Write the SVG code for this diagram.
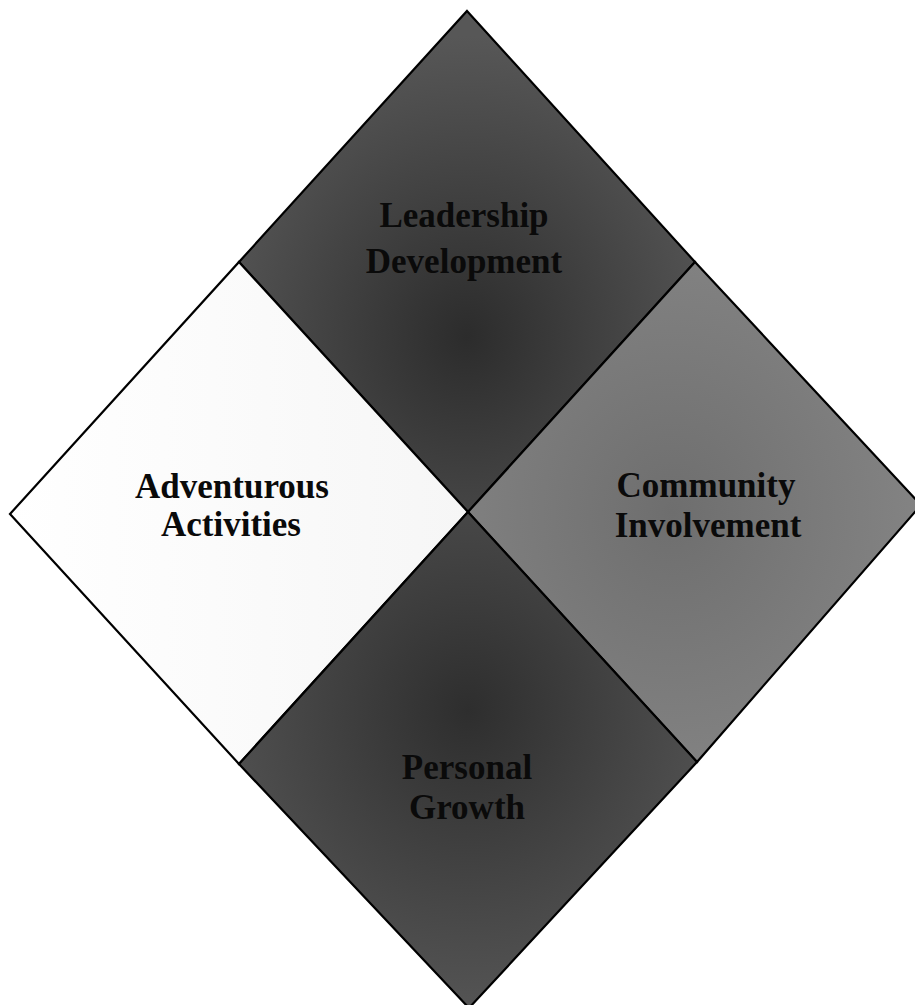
<svg xmlns="http://www.w3.org/2000/svg" width="915" height="1005" viewBox="0 0 915 1005">
<defs>
<radialGradient id="gLead" cx="0.5" cy="0.65" r="0.6">
<stop offset="0" stop-color="#2c2c2c"/>
<stop offset="1" stop-color="#575757"/>
</radialGradient>
<radialGradient id="gComm" cx="0.45" cy="0.5" r="0.6">
<stop offset="0" stop-color="#6e6e6e"/>
<stop offset="1" stop-color="#858585"/>
</radialGradient>
<radialGradient id="gPers" cx="0.5" cy="0.4" r="0.6">
<stop offset="0" stop-color="#2e2e2e"/>
<stop offset="1" stop-color="#545454"/>
</radialGradient>
<linearGradient id="gAdv" x1="0" y1="0" x2="1" y2="0">
<stop offset="0" stop-color="#ffffff"/>
<stop offset="1" stop-color="#f6f6f6"/>
</linearGradient>
</defs>
<style>
.d{stroke:#000;stroke-width:2.2;stroke-linejoin:miter}
.t{font-family:"Liberation Serif","Times New Roman",serif;font-weight:bold;font-size:35px;text-anchor:middle;fill:#0a0a0a}
</style>
<rect width="915" height="1005" fill="#ffffff"/>
<g id="leadership">
<polygon class="d" fill="url(#gLead)" points="467,11 695,262 468,512 239,262"/>
<text class="t" x="464" y="227">Leadership</text>
<text class="t" x="464" y="273">Development</text>
</g>
<g id="adventurous">
<polygon class="d" fill="url(#gAdv)" points="239,262 468,512 239,764 10,514"/>
<text class="t" x="232" y="498">Adventurous</text>
<text class="t" x="231" y="536">Activities</text>
</g>
<g id="community">
<polygon class="d" fill="url(#gComm)" points="695,262 921,505 697,762 468,512"/>
<text class="t" x="706" y="497">Community</text>
<text class="t" x="708" y="537">Involvement</text>
</g>
<g id="personal">
<polygon class="d" fill="url(#gPers)" points="468,512 697,762 469,1008 239,764"/>
<text class="t" x="467" y="779">Personal</text>
<text class="t" x="467" y="819">Growth</text>
</g>
<g id="connectors"></g>
</svg>
